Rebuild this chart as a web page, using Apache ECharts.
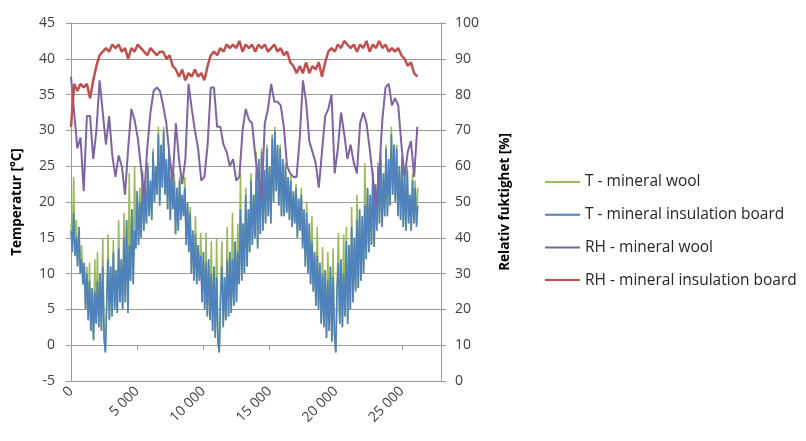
<!DOCTYPE html>
<html>
<head>
<meta charset="utf-8">
<title>Temperatur och relativ fuktighet</title>
<script src="https://cdn.jsdelivr.net/npm/echarts@6/dist/echarts.min.js"></script>
<style>
  html, body { margin: 0; padding: 0; background: #fff; }
  #chart { width: 806px; height: 441px; }
</style>
</head>
<body>
<div id="chart"></div>
<script>
// hours between two readings (T series / RH series)
var T_STEP = 100;
var RH_STEP = 240;

// T - mineral wool [°C]
var tWool = [
  17, 13, 23.5, 12.5, 17.5, 11, 16.5, 10, 14, 8.5,
  11.5, 5, 11, 3.5, 11.5, 2, 8, 0.7, 12, 3,
  13, 2.5, 10, 2, 15, 1, -1, 6, 15.5, 3.5,
  11, 4, 14.7, 5, 10.5, 4.5, 17.5, 6, 12, 5,
  18.5, 6, 17.5, 4.5, 24, 9, 19, 8.5, 25, 13.5,
  21.5, 14, 22, 15, 24.5, 16, 22, 17, 25.5, 18,
  23, 17.5, 27.5, 20, 25, 21, 30.5, 19.5, 28, 22,
  30.5, 21, 26, 19, 27.5, 17.5, 24, 19, 24, 15.5,
  22, 16, 23.5, 17.5, 21, 18, 23.5, 14, 20, 13,
  19.3, 10, 16, 9, 18, 8.5, 14, 9, 15.7, 6,
  13, 5, 15.7, 4, 12, 3.5, 14.5, 2, 11, 1,
  15, 0.5, -1, 7, 14.5, 2.5, 9.5, 3.5, 16.5, 4,
  13, 4.5, 18.5, 5.5, 14.5, 6, 17, 8.5, 24, 9,
  17, 10, 22, 11, 19, 13, 24, 14, 21, 15,
  27, 13.5, 26, 15.5, 27.5, 16, 24.5, 17, 28, 18,
  25, 17, 29.5, 20, 30.5, 21.5, 28, 19.5, 28, 18,
  26, 18, 25.5, 18.5, 23.5, 17.5, 24, 16.5, 21.5, 17,
  22.5, 15, 20.5, 16, 22, 13.5, 19, 11, 20, 10,
  17, 8.5, 18, 7.5, 13, 5.5, 16.5, 5, 11.5, 3,
  13.7, 2.5, 10.5, 1, 13, 2, 11, 0.5, 13.5, 1.5,
  -1, 8, 15.7, 3, 12, 2.5, 15.5, 4, 16.5, 3,
  14, 5, 19.3, 6, 15, 7.5, 21, 8, 19, 9,
  18, 10, 25.4, 12, 22, 13, 21, 14, 24.5, 13.7,
  22.5, 16, 25.5, 17, 27, 16.5, 24, 18, 28, 18,
  26, 19.5, 30.5, 21, 28, 20, 28, 18, 25, 17.5,
  26.5, 16.5, 24, 16, 25, 17, 21, 16, 24, 17,
  23, 17, 22
];

// T - mineral insulation board [°C]
var tBoard = [
  16, 13, 18.5, 12.5, 15, 11, 16.5, 10, 12, 8.5,
  11.5, 5, 10, 3.5, 9, 2, 8, 0.7, 7.5, 3,
  9, 2.5, 10, 2, 11, 1, -1, 6, 12, 3.5,
  11, 4, 13, 5, 10.5, 4.5, 13.5, 6, 12, 5,
  15, 6, 17.5, 4.5, 14, 9, 19, 8.5, 16, 13.5,
  21.5, 14, 20, 15, 24, 16, 22, 17, 25, 18,
  23, 17.5, 27, 20, 25, 21, 29.5, 19.5, 28, 22,
  30, 21, 26, 19, 27, 17.5, 24, 19, 23, 15.5,
  22, 16, 23, 17.5, 21, 18, 22, 14, 20, 13,
  18.5, 10, 16, 9, 15.5, 8.5, 14, 9, 12.5, 6,
  13, 5, 11.5, 4, 12, 3.5, 10, 2, 11, 1,
  9.5, 0.5, -1, 7, 11, 2.5, 9.5, 3.5, 12, 4,
  13, 4.5, 12, 5.5, 14.5, 6, 13, 8.5, 19, 9,
  17, 10, 21, 11, 19, 13, 23, 14, 21, 15,
  24, 13.5, 26, 15.5, 27, 16, 24.5, 17, 27.5, 18,
  25, 17, 29, 20, 30, 21.5, 28, 19.5, 27.5, 18,
  26, 18, 25, 18.5, 23.5, 17.5, 23, 16.5, 21.5, 17,
  22, 15, 20.5, 16, 21, 13.5, 19, 11, 18.5, 10,
  17, 8.5, 14.5, 7.5, 13, 5.5, 12.5, 5, 11.5, 3,
  10, 2.5, 10.5, 1, 9, 2, 11, 0.5, 9.5, 1.5,
  -1, 8, 11.5, 3, 12, 2.5, 10, 4, 14.5, 3,
  14, 5, 16.5, 6, 15, 7.5, 17.5, 8, 19, 9,
  18, 10, 19.5, 12, 22, 13, 21, 14, 24, 13.7,
  22.5, 16, 25, 17, 26, 16.5, 24, 18, 27.5, 18,
  26, 19.5, 29.5, 21, 28, 20, 27.5, 18, 25, 17.5,
  26, 16.5, 24, 16, 24.5, 17, 21, 16, 23, 17,
  22, 16.5, 19.5
];

// RH - mineral wool [%]
var rhWool = [
  85, 75, 65, 68, 53, 74, 74, 62, 70, 84,
  75, 66, 74, 63, 57, 63, 60, 52, 65, 76,
  73, 68, 60, 51, 65, 75, 81, 82, 81, 77,
  72, 63, 56, 72, 62, 55, 62, 83, 76, 70,
  65, 56, 57, 66, 82, 82, 71, 71, 66, 64,
  60, 62, 56, 57, 70, 76, 73, 72, 63, 56,
  51, 72, 76, 83, 78, 78, 77, 71, 60, 58,
  57, 57, 68, 84, 78, 67, 64, 61, 54, 64,
  74, 76, 80, 58, 65, 75, 69, 62, 66, 61,
  58, 72, 75, 72, 65, 57, 49, 58, 73, 82,
  83, 77, 79, 77, 66, 57, 64, 67, 57, 71
];

// RH - mineral insulation board [%]
var rhBoard = [
  71, 83, 81, 83, 82, 83, 79, 84, 88, 91,
  92, 93, 92, 94, 93, 94, 92, 93, 90, 93,
  92, 94, 93, 92, 91, 93, 92, 91, 92, 92,
  90, 91, 88, 87, 85, 87, 84, 86, 85, 87,
  85, 86, 84, 88, 91, 92, 91, 93, 92, 94,
  93, 94, 93, 95, 92, 94, 93, 94, 92, 94,
  93, 94, 92, 93, 94, 92, 93, 91, 92, 89,
  88, 86, 88, 86, 89, 86, 88, 87, 89, 85,
  89, 92, 93, 92, 94, 93, 95, 94, 93, 94,
  92, 94, 93, 95, 92, 94, 93, 95, 93, 94,
  92, 93, 92, 93, 91, 90, 88, 89, 86, 85
];

var xTicks = [0, 5000, 10000, 15000, 20000, 25000];

function toPairs(values, step) {
  return values.map(function (v, i) { return [i * step, v]; });
}

var chart = echarts.init(document.getElementById("chart"));
var font = "'Open Sans', 'Noto Sans', sans-serif";
var gridColor = "#9a9a9a";

var option = {
  animation: false,
  backgroundColor: "#fff",
  textStyle: { fontFamily: font },
  grid: { left: 71, right: 365, top: 23, bottom: 60 },
  legend: {
    orient: "vertical",
    left: 545,
    top: 174,
    padding: 0,
    icon: "rect",
    itemWidth: 35,
    itemHeight: 2,
    itemGap: 16.7,
    textStyle: { color: "#262626", fontSize: 15.5, fontFamily: font },
    data: [
      "T - mineral wool",
      "T - mineral insulation board",
      "RH - mineral wool",
      "RH - mineral insulation board"
    ]
  },
  xAxis: {
    type: "value",
    min: 0,
    max: 27950,
    interval: 5000,
    axisLine: { lineStyle: { color: gridColor } },
    axisTick: { show: true, length: 5, lineStyle: { color: gridColor } },
    splitLine: { show: false },
    axisLabel: {
      rotate: 45,
      margin: 8,
      color: "#404040",
      fontSize: 14,
      formatter: function (v) {
        if (xTicks.indexOf(v) < 0) return "";
        return String(v).replace(/\B(?=(\d{3})+(?!\d))/g, " ");
      }
    }
  },
  yAxis: [
    {
      type: "value",
      min: -5,
      max: 45,
      interval: 5,
      name: "Temperatur [°C]",
      nameLocation: "middle",
      nameRotate: 90,
      nameGap: 47,
      nameTextStyle: { color: "#000", fontWeight: "bold", fontSize: 13.5 },
      axisLine: { show: true, lineStyle: { color: gridColor } },
      axisTick: { show: true, length: 5, lineStyle: { color: gridColor } },
      axisLabel: { color: "#404040", fontSize: 14, margin: 16 },
      splitLine: { show: true, lineStyle: { color: gridColor, width: 1 } }
    },
    {
      type: "value",
      min: 0,
      max: 100,
      interval: 10,
      position: "right",
      name: "Relativ fuktighet [%]",
      nameLocation: "middle",
      nameRotate: 90,
      nameGap: 57,
      nameTextStyle: { color: "#000", fontWeight: "bold", fontSize: 13.5 },
      axisLine: { show: true, lineStyle: { color: gridColor } },
      axisTick: { show: true, length: 5, lineStyle: { color: gridColor } },
      axisLabel: { color: "#404040", fontSize: 14, margin: 14 },
      splitLine: { show: false }
    }
  ],
  series: [
    {
      name: "T - mineral wool",
      type: "line",
      yAxisIndex: 0,
      symbol: "none",
      data: toPairs(tWool, T_STEP),
      lineStyle: { color: "#9BBB59", width: 1.6 },
      itemStyle: { color: "#9BBB59" }
    },
    {
      name: "T - mineral insulation board",
      type: "line",
      yAxisIndex: 0,
      symbol: "none",
      data: toPairs(tBoard, T_STEP),
      lineStyle: { color: "#4F81BD", width: 1.6 },
      itemStyle: { color: "#4F81BD" }
    },
    {
      name: "RH - mineral wool",
      type: "line",
      yAxisIndex: 1,
      symbol: "none",
      data: toPairs(rhWool, RH_STEP),
      lineStyle: { color: "#8064A2", width: 2 },
      itemStyle: { color: "#8064A2" }
    },
    {
      name: "RH - mineral insulation board",
      type: "line",
      yAxisIndex: 1,
      symbol: "none",
      data: toPairs(rhBoard, RH_STEP),
      lineStyle: { color: "#C0504D", width: 2.5 },
      itemStyle: { color: "#C0504D" }
    }
  ]
};

chart.setOption(option);
window.addEventListener("resize", function () {
  chart.resize();
});
</script>
</body>
</html>
